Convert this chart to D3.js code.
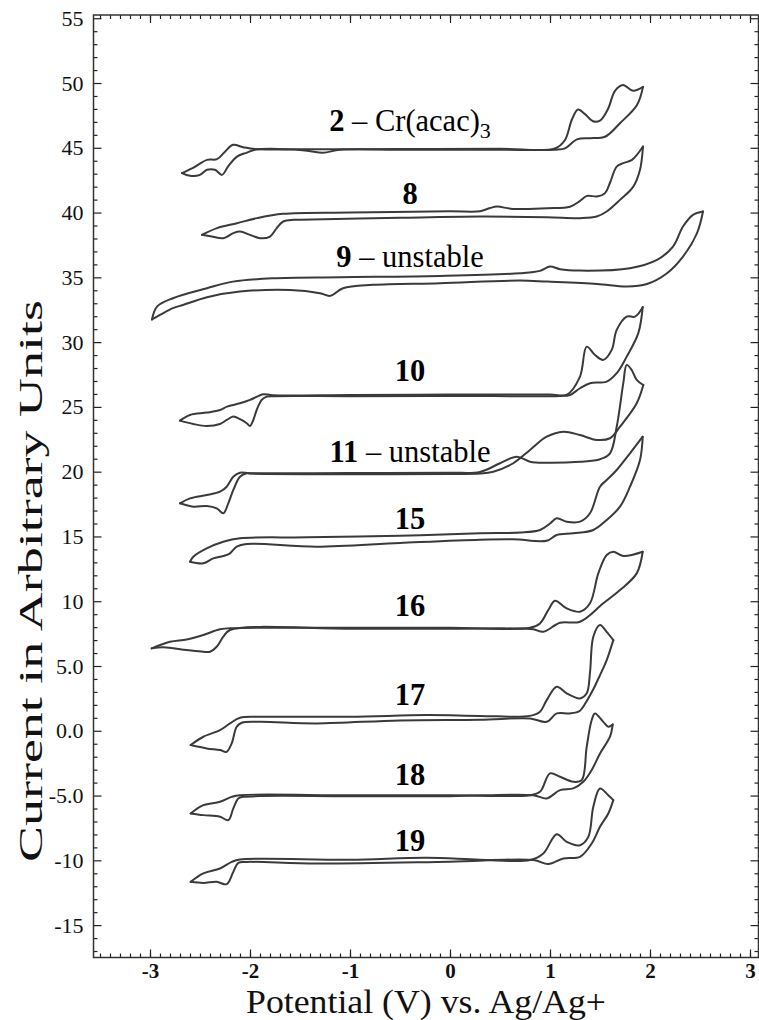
<!DOCTYPE html>
<html>
<head>
<meta charset="utf-8">
<script src="https://cdn.jsdelivr.net/npm/d3@7"></script>
<style>
  body { margin: 0; background: #fff; }
  svg { display: block; font-family: "Liberation Serif", "Times New Roman", serif; }
  svg text { font-family: "Liberation Serif", "Times New Roman", serif; }
</style>
</head>
<body>
<svg id="chart" width="759" height="1020"></svg>
<script>
// Cyclic voltammograms, each loop split into the outgoing sweep (left vertex -> right vertex)
// and the return sweep (right vertex -> left vertex). Points are [potential V, current a.u.].

const cr2Out = [[-2.68,43.05],[-2.57,43.45],[-2.43,44.07],[-2.33,44.12],[-2.25,44.7],[-2.17,45.23],[-2.07,45.05],[-1.95,44.9],[-1.5,44.88],[-0.5,44.9],[0.5,44.92],[1.05,44.95],[1.15,45.6],[1.22,47.2],[1.28,47.95],[1.35,47.6],[1.43,47.05],[1.5,47.1],[1.58,48.0],[1.65,49.4],[1.73,49.85],[1.83,49.4],[1.93,49.7]];
const cr2Back = [[1.93,49.7],[1.87,48.3],[1.7,46.9],[1.55,45.85],[1.4,45.74],[1.27,45.65],[1.15,44.95],[1.05,44.85],[0.5,44.85],[-0.5,44.85],[-1.1,44.85],[-1.27,44.62],[-1.45,44.8],[-1.95,44.85],[-2.03,44.63],[-2.13,44.32],[-2.22,43.55],[-2.28,42.91],[-2.35,43.3],[-2.43,43.3],[-2.5,42.91],[-2.6,42.84],[-2.68,43.05]];

const c8Out = [[-2.48,38.28],[-2.33,38.8],[-2.13,39.18],[-1.93,39.57],[-1.67,39.9],[-1.0,40.0],[0.0,40.1],[0.3,40.1],[0.4,40.35],[0.47,40.46],[0.63,40.28],[0.97,40.34],[1.2,40.45],[1.3,40.9],[1.37,41.29],[1.47,41.24],[1.55,41.5],[1.6,42.3],[1.667,43.55],[1.733,43.81],[1.82,44.07],[1.93,45.1]];
const c8Back = [[1.93,45.1],[1.9,43.3],[1.833,42.0],[1.7,40.98],[1.567,40.08],[1.467,39.69],[1.3,39.57],[0.97,39.64],[0.3,39.69],[-0.5,39.6],[-1.5,39.45],[-1.567,39.44],[-1.667,39.31],[-1.733,38.8],[-1.8,38.15],[-1.9,38.02],[-2.0,38.28],[-2.1,38.53],[-2.167,38.41],[-2.267,38.02],[-2.383,38.15],[-2.48,38.28]];

const c9Out = [[-2.98,31.75],[-2.93,32.74],[-2.77,33.39],[-2.43,34.16],[-2.17,34.67],[-1.77,34.93],[-1.1,35.01],[-0.1,35.11],[0.7,35.32],[0.9,35.5],[1.0,35.83],[1.1,35.63],[1.3,35.52],[1.8,35.71],[2.07,36.35],[2.23,37.37],[2.33,38.92],[2.43,39.82],[2.53,40.08]];
const c9Back = [[2.53,40.08],[2.47,38.41],[2.33,36.6],[2.17,35.32],[1.97,34.49],[1.77,34.29],[1.47,34.49],[0.97,34.67],[0.7,34.75],[-0.1,34.55],[-0.77,34.42],[-1.07,34.16],[-1.2,33.57],[-1.3,33.78],[-1.6,34.03],[-2.1,33.9],[-2.43,33.47],[-2.67,32.87],[-2.77,32.62],[-2.9,32.1],[-2.98,31.75]];

const c10Out = [[-2.7,23.94],[-2.6,24.38],[-2.43,24.56],[-2.3,24.76],[-2.23,25.02],[-2.1,25.28],[-2.0,25.54],[-1.93,25.79],[-1.87,25.98],[-1.77,25.9],[-1.0,25.92],[0,25.95],[1.0,25.95],[1.17,25.95],[1.3,27.34],[1.367,29.65],[1.45,29.01],[1.533,28.63],[1.617,29.4],[1.667,30.94],[1.767,31.97],[1.85,31.97],[1.927,32.7]];
const c10Back = [[1.927,32.7],[1.883,30.69],[1.767,28.88],[1.667,27.6],[1.567,26.95],[1.4,26.83],[1.3,26.44],[1.2,25.92],[1.1,25.85],[0,25.85],[-1.0,25.83],[-1.75,25.83],[-1.833,25.79],[-1.883,25.54],[-1.933,24.76],[-1.967,23.99],[-2.0,23.53],[-2.033,23.74],[-2.1,24.05],[-2.167,24.25],[-2.233,23.99],[-2.3,23.68],[-2.433,23.53],[-2.567,23.68],[-2.7,23.94]];

const c11Out = [[-2.7,17.56],[-2.6,17.94],[-2.433,18.2],[-2.3,18.46],[-2.233,18.84],[-2.167,19.61],[-2.1,19.92],[-2.0,19.88],[-1.0,19.9],[0.0,19.92],[0.3,19.98],[0.5,20.65],[0.667,21.16],[0.8,20.77],[0.967,20.69],[1.3,20.77],[1.5,20.96],[1.6,21.42],[1.667,23.47],[1.733,26.83],[1.767,28.24],[1.817,27.85],[1.867,27.08],[1.933,26.69]];
const c11Back = [[1.933,26.69],[1.867,25.28],[1.7,23.47],[1.6,22.58],[1.467,22.45],[1.3,22.83],[1.133,23.09],[0.967,22.7],[0.8,21.68],[0.633,20.65],[0.433,20.0],[0.3,19.85],[0,19.82],[-1.0,19.8],[-2.0,19.85],[-2.033,19.88],[-2.1,19.61],[-2.167,18.59],[-2.217,17.56],[-2.267,16.79],[-2.333,17.17],[-2.433,17.35],[-2.567,17.3],[-2.7,17.56]];

const c15Out = [[-2.6,13.05],[-2.567,13.44],[-2.433,14.08],[-2.267,14.59],[-2.1,14.86],[-1.43,14.93],[-0.5,15.05],[0.3,15.25],[0.7,15.3],[0.9,15.5],[1.0,16.0],[1.067,16.4],[1.167,16.14],[1.3,16.14],[1.4,16.79],[1.5,18.84],[1.567,19.36],[1.667,20.13],[1.8,21.42],[1.927,22.7]];
const c15Back = [[1.927,22.7],[1.9,20.9],[1.8,18.84],[1.7,17.3],[1.567,16.27],[1.433,15.5],[1.233,15.24],[1.067,15.11],[0.967,14.67],[0.633,14.78],[0.3,14.75],[-0.5,14.5],[-1.333,14.21],[-2.033,14.42],[-2.133,14.21],[-2.2,13.7],[-2.267,13.49],[-2.367,13.31],[-2.467,12.93],[-2.6,13.05]];

const c16Out = [[-2.983,6.36],[-2.8,6.87],[-2.633,7.05],[-2.467,7.39],[-2.3,7.83],[-2.167,7.92],[-1.0,7.95],[0,7.95],[0.8,7.95],[0.9,8.29],[0.983,9.32],[1.05,10.04],[1.167,9.45],[1.3,9.19],[1.4,9.84],[1.483,12.15],[1.567,13.57],[1.633,13.82],[1.733,13.49],[1.927,13.82]];
const c16Back = [[1.927,13.82],[1.867,12.15],[1.7,10.86],[1.533,9.84],[1.3,8.42],[1.1,8.34],[0.933,7.64],[0.833,7.83],[0.633,7.9],[0,7.88],[-1.0,7.88],[-2.2,7.78],[-2.267,7.26],[-2.333,6.49],[-2.4,6.1],[-2.467,6.1],[-2.633,6.23],[-2.867,6.44],[-2.983,6.36]];

const c17Out = [[-2.593,-1.1],[-2.467,-0.46],[-2.3,0.05],[-2.2,0.57],[-2.1,1.0],[-1.9,1.08],[-1.0,1.08],[-0.233,1.21],[0.3,1.15],[0.8,1.15],[0.9,1.47],[0.967,2.37],[1.067,3.4],[1.167,2.89],[1.3,2.5],[1.367,2.89],[1.4,4.5],[1.433,7.26],[1.5,8.16],[1.567,7.64],[1.633,7.0]];
const c17Back = [[1.633,7.0],[1.567,5.46],[1.5,4.3],[1.433,3.2],[1.36,2.2],[1.3,1.55],[1.2,1.34],[1.067,1.34],[0.967,0.69],[0.8,0.95],[0.3,0.85],[-0.5,0.8],[-1.333,0.57],[-1.9,0.69],[-2.083,0.62],[-2.133,0.31],[-2.183,-0.97],[-2.233,-1.62],[-2.3,-1.49],[-2.433,-1.36],[-2.593,-1.1]];

const c18Out = [[-2.593,-6.38],[-2.467,-5.74],[-2.3,-5.48],[-2.183,-5.1],[-2.1,-4.97],[-1.0,-4.98],[0,-4.98],[0.8,-4.97],[0.9,-4.71],[1.0,-3.29],[1.1,-3.55],[1.233,-3.94],[1.317,-3.81],[1.367,-1.24],[1.417,0.83],[1.45,1.34],[1.533,0.69],[1.583,0.31],[1.627,0.49]];
const c18Back = [[1.627,0.49],[1.6,-0.46],[1.5,-1.75],[1.417,-3.03],[1.333,-3.94],[1.233,-4.45],[1.1,-4.58],[0.967,-5.22],[0.833,-4.97],[0,-5.05],[-1.0,-5.05],[-2.067,-5.1],[-2.117,-5.22],[-2.167,-5.99],[-2.217,-6.9],[-2.3,-6.64],[-2.467,-6.51],[-2.593,-6.38]];

const c19Out = [[-2.593,-11.66],[-2.467,-11.01],[-2.3,-10.63],[-2.183,-10.12],[-2.1,-9.93],[-1.0,-9.95],[-0.233,-9.8],[0.3,-9.95],[0.8,-9.98],[0.933,-9.47],[1.067,-7.98],[1.167,-8.57],[1.3,-8.83],[1.383,-8.19],[1.433,-5.87],[1.5,-4.45],[1.583,-4.97],[1.633,-5.35]];
const c19Back = [[1.633,-5.35],[1.583,-6.38],[1.5,-7.41],[1.417,-8.7],[1.3,-9.73],[1.133,-9.86],[0.983,-10.29],[0.833,-9.98],[0,-10.1],[-1.333,-10.24],[-2.033,-10.12],[-2.117,-10.19],[-2.167,-10.89],[-2.233,-11.84],[-2.333,-11.66],[-2.467,-11.74],[-2.593,-11.66]];

// Compound labels: bold number, plain suffix, anchor point in data units
const labelNumber = ["2", "8", "9", "10", "11", "15", "16", "17", "18", "19"];
const labelSuffix = [" \u2013 Cr(acac)", "", " \u2013 unstable", "", " \u2013 unstable", "", "", "", "", ""];
const labelSubscript = ["3", "", "", "", "", "", "", "", "", ""];
const labelX = [-0.4, -0.4, -0.4, -0.4, -0.4, -0.4, -0.4, -0.4, -0.4, -0.4];
const labelY = [46.33, 40.67, 35.83, 27.0, 20.77, 15.55, 8.86, 2.02, -4.19, -9.27];

// Axis ticks
const xMajorTicks = [-3, -2, -1, 0, 1, 2, 3];
const yMajorTicks = [-15, -10, -5, 0, 5, 10, 15, 20, 25, 30, 35, 40, 45, 50, 55];

const loops = [
  [cr2Out, cr2Back], [c8Out, c8Back], [c9Out, c9Back], [c10Out, c10Back], [c11Out, c11Back],
  [c15Out, c15Back], [c16Out, c16Back], [c17Out, c17Back], [c18Out, c18Back], [c19Out, c19Back]
];

const plot = { left: 93.5, right: 758.5, top: 15, bottom: 957.5 };

const x = d3.scaleLinear().domain([-3.565, 3.085]).range([plot.left, plot.right]);
const y = d3.scaleLinear().domain([-17.5, 55.25]).range([plot.bottom, plot.top]);

const svg = d3.select("#chart");

const xMinor = d3.range(-35, 31).map(d => d / 10).filter(v => v >= x.domain()[0] && v <= x.domain()[1]);
const yMinor = d3.range(-17, 56).filter(v => v % 5 !== 0);

const yFmt = v => (Math.abs(v) < 10 ? v.toFixed(1) : String(v));
const xFmt = v => String(v);

// Frame axes with inward ticks on all four sides
function addAxis(axis, transform, showLabels) {
  const g = svg.append("g").attr("transform", transform).call(axis);
  g.select(".domain").remove();
  g.attr("font-family", null).attr("font-size", null);
  g.selectAll(".tick line").attr("stroke", "#222").attr("stroke-width", 1.2);
  if (!showLabels) g.selectAll("text").remove();
  return g;
}

// minor ticks
addAxis(d3.axisBottom(x).tickValues(xMinor).tickSize(-4).tickFormat(""), `translate(0,${plot.bottom})`, false);
addAxis(d3.axisTop(x).tickValues(xMinor).tickSize(-4).tickFormat(""), `translate(0,${plot.top})`, false);
addAxis(d3.axisLeft(y).tickValues(yMinor).tickSize(-4).tickFormat(""), `translate(${plot.left},0)`, false);
addAxis(d3.axisRight(y).tickValues(yMinor).tickSize(-4).tickFormat(""), `translate(${plot.right},0)`, false);

// major ticks
const gx = addAxis(d3.axisBottom(x).tickValues(xMajorTicks).tickSize(-8).tickPadding(6).tickFormat(xFmt), `translate(0,${plot.bottom})`, true);
addAxis(d3.axisTop(x).tickValues(xMajorTicks).tickSize(-8).tickFormat(""), `translate(0,${plot.top})`, false);
const gy = addAxis(d3.axisLeft(y).tickValues(yMajorTicks).tickSize(-8).tickPadding(10).tickFormat(yFmt), `translate(${plot.left},0)`, true);
addAxis(d3.axisRight(y).tickValues(yMajorTicks).tickSize(-8).tickFormat(""), `translate(${plot.right},0)`, false);

gx.selectAll("text").style("font-size", "21px").style("font-weight", "bold").attr("fill", "#111");
gy.selectAll("text").style("font-size", "22px").attr("fill", "#111");

// plot frame
svg.append("rect")
  .attr("x", plot.left).attr("y", plot.top)
  .attr("width", plot.right - plot.left).attr("height", plot.bottom - plot.top)
  .attr("fill", "none").attr("stroke", "#333").attr("stroke-width", 1.5);

// voltammogram traces
const line = d3.line()
  .x(d => x(d[0]))
  .y(d => y(d[1]))
  .curve(d3.curveCatmullRom.alpha(0.5));

const traces = svg.append("g").attr("fill", "none").attr("stroke", "#3a3a3a")
  .attr("stroke-width", 2).attr("stroke-linejoin", "round").attr("stroke-linecap", "round");

loops.forEach(([out, back]) => {
  traces.append("path").attr("d", line(out));
  traces.append("path").attr("d", line(back));
});

// compound labels
const labels = svg.append("g").style("font-size", "30.5px").attr("fill", "#000").attr("text-anchor", "middle");
labelNumber.forEach((num, i) => {
  const t = labels.append("text").attr("x", x(labelX[i])).attr("y", y(labelY[i]));
  t.append("tspan").attr("font-weight", "bold").text(num);
  if (labelSuffix[i]) t.append("tspan").text(labelSuffix[i]);
  if (labelSubscript[i]) t.append("tspan").style("font-size", "22px").attr("dy", 7).text(labelSubscript[i]);
});

// axis titles
svg.append("text")
  .attr("x", 426).attr("y", 1013)
  .attr("text-anchor", "middle").style("font-size", "33px").attr("fill", "#111")
  .attr("textLength", 360).attr("lengthAdjust", "spacingAndGlyphs")
  .text("Potential (V) vs. Ag/Ag+");

svg.append("text")
  .attr("transform", "translate(42,581) rotate(-90)")
  .attr("text-anchor", "middle").style("font-size", "33px").attr("fill", "#111")
  .attr("textLength", 562).attr("lengthAdjust", "spacingAndGlyphs")
  .text("Current in Arbitrary Units");
</script>
</body>
</html>
